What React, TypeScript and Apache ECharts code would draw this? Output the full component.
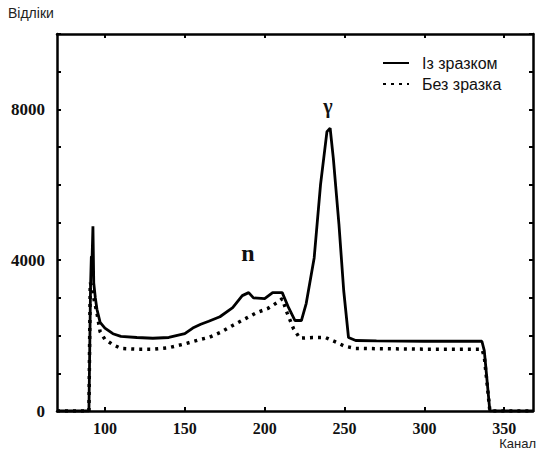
import React, { useEffect, useRef } from "react";
import * as echarts from "echarts";

const xTickValues = [100, 150, 200, 250, 300, 350];
const yLabelValues = [0, 4000, 8000];

const withSampleChannels = [70, 90, 91, 91.5, 92, 92.5, 93, 94, 95, 97, 100, 105, 110, 120, 130, 140, 150, 155, 160, 165, 172, 180, 186, 190, 193, 200, 205, 211, 215, 219, 223, 226, 231, 235, 239, 241, 243, 246.5, 249.5, 252.5, 257, 270, 300, 336, 337.5, 341, 368];
const withSampleCounts = [0, 0, 3300, 4100, 4100, 4900, 3400, 3000, 2700, 2350, 2200, 2050, 1980, 1950, 1930, 1950, 2050, 2200, 2300, 2380, 2500, 2740, 3060, 3140, 3000, 2980, 3140, 3140, 2740, 2400, 2400, 2850, 4060, 6010, 7410, 7500, 6700, 4960, 3190, 1950, 1870, 1860, 1850, 1850, 1600, 0, 0];

const withoutSampleChannels = [70, 90, 90.8, 92, 93, 95, 97, 100, 105, 110, 120, 130, 140, 150, 160, 165, 172, 180, 188, 195, 202, 208, 211, 214, 218, 222, 230, 238, 245, 250, 257, 300, 336, 337.5, 341, 368];
const withoutSampleCounts = [0, 0, 3400, 3300, 3000, 2600, 2100, 1900, 1760, 1660, 1640, 1640, 1680, 1780, 1900, 1950, 2080, 2270, 2450, 2610, 2720, 2880, 2980, 2610, 2190, 1930, 1950, 1950, 1820, 1720, 1660, 1640, 1640, 1450, 0, 0];

const seriesNames = ["Із зразком", "Без зразка"];

export default function App() {
  const ref = useRef<HTMLDivElement>(null);
  useEffect(() => {
    document.body.style.margin = "0";
    if (!ref.current) return;
    const chart = echarts.init(ref.current, null, { renderer: "svg" });
    const serif = "'Liberation Serif', 'DejaVu Serif', serif";
    const sans = "'Liberation Sans', Arial, sans-serif";
    const withData = withSampleChannels.map((c, i) => [c, withSampleCounts[i]]);
    const withoutData = withoutSampleChannels.map((c, i) => [c, withoutSampleCounts[i]]);
    const axisLine = () => ({ show: true, onZero: false, lineStyle: { color: "#000", width: 2.5 } });
    const tickStyle = () => ({ color: "#000", width: 2 });
    chart.setOption({
      animation: false,
      backgroundColor: "#fff",
      grid: { left: 57, right: 3, top: 34, bottom: 43, containLabel: false },
      xAxis: [
        {
          type: "value",
          min: 70,
          max: 368,
          position: "bottom",
          axisLine: axisLine(),
          axisTick: { show: true, inside: true, length: 4, customValues: xTickValues, lineStyle: tickStyle() },
          axisLabel: { customValues: xTickValues, margin: 9, color: "#111", fontFamily: serif, fontWeight: "bold", fontSize: 16 },
          splitLine: { show: false },
        },
        {
          type: "value",
          min: 70,
          max: 368,
          position: "top",
          axisLine: axisLine(),
          axisTick: { show: true, inside: true, length: 4, customValues: xTickValues, lineStyle: tickStyle() },
          axisLabel: { show: false },
          splitLine: { show: false },
        },
      ],
      yAxis: [
        {
          type: "value",
          min: 0,
          max: 10000,
          interval: 1000,
          position: "left",
          axisLine: axisLine(),
          axisTick: { show: true, inside: true, length: 4, lineStyle: tickStyle() },
          axisLabel: {
            margin: 12,
            color: "#111",
            fontFamily: serif,
            fontWeight: "bold",
            fontSize: 17,
            formatter: (v: number) => (yLabelValues.includes(v) ? String(v) : ""),
          },
          splitLine: { show: false },
        },
        {
          type: "value",
          min: 0,
          max: 10000,
          interval: 1000,
          position: "right",
          axisLine: axisLine(),
          axisTick: { show: true, inside: true, length: 4, lineStyle: tickStyle() },
          axisLabel: { show: false },
          splitLine: { show: false },
        },
      ],
      legend: {
        orient: "vertical",
        left: 377,
        top: 50,
        itemWidth: 26,
        itemHeight: 12,
        itemGap: 5,
        itemStyle: { opacity: 0 },
        textStyle: { fontFamily: sans, fontSize: 16, color: "#111", padding: [0, 0, 0, 8] },
        data: seriesNames,
      },
      series: [
        {
          name: seriesNames[0],
          type: "line",
          data: withData,
          symbol: "none",
          lineStyle: { color: "#000", width: 2.8 },
          itemStyle: { color: "#000" },
          z: 3,
        },
        {
          name: seriesNames[1],
          type: "line",
          data: withoutData,
          symbol: "none",
          lineStyle: { color: "#000", width: 3.5, type: [3, 5] },
          itemStyle: { color: "#000" },
          z: 2,
        },
      ],
      graphic: [
        { type: "text", left: 8, top: 6, style: { text: "Відліки", font: `14px ${sans}`, fill: "#222" } },
        { type: "text", right: 0, top: 437, style: { text: "Канал", font: `13px ${sans}`, fill: "#222" } },
        { type: "text", x: 248, y: 253, style: { text: "n", font: `bold 24px ${serif}`, fill: "#111", align: "center", verticalAlign: "middle" } },
        { type: "text", x: 328, y: 106, style: { text: "γ", font: `bold 20px ${serif}`, fill: "#111", align: "center", verticalAlign: "middle" } },
      ],
    });
    return () => chart.dispose();
  }, []);
  return <div ref={ref} style={{ width: 536, height: 454 }} />;
}
